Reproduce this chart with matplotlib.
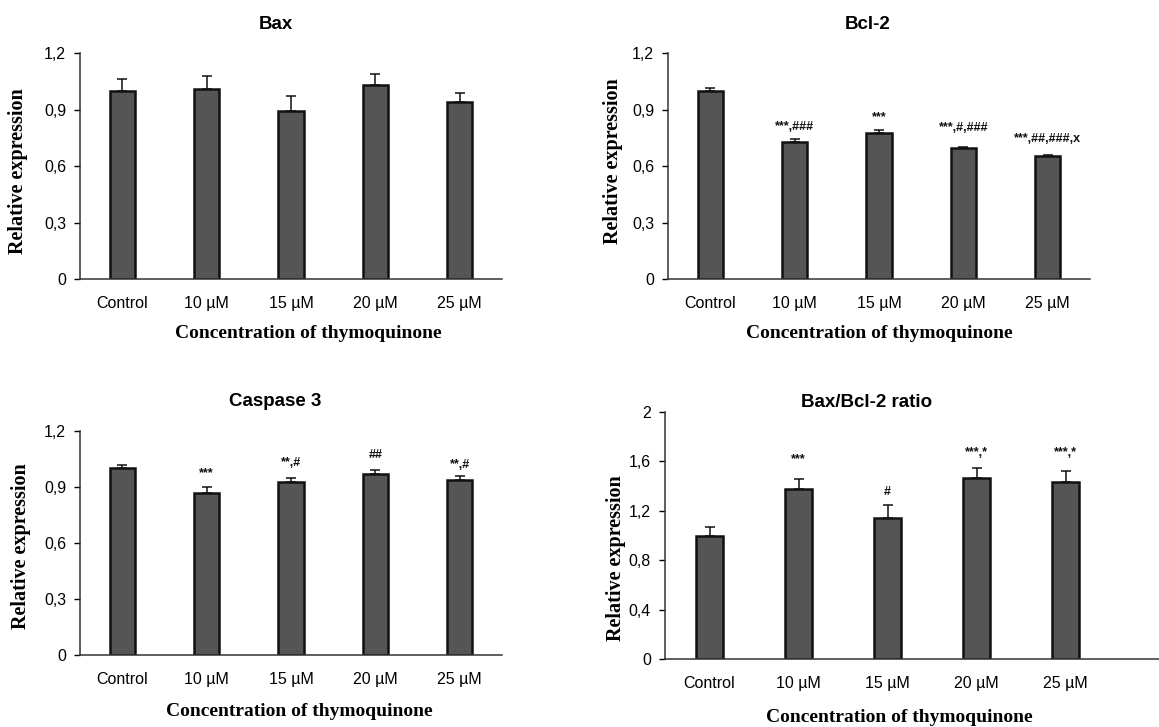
import matplotlib
matplotlib.use("Agg")
import matplotlib.pyplot as plt
import numpy as np

categories = ["Control", "10 µM", "15 µM", "20 µM", "25 µM"]

bax_vals = [1.00, 1.01, 0.89, 1.03, 0.94]
bax_err = [0.06, 0.07, 0.08, 0.06, 0.045]
bax_ann = ["", "", "", "", ""]
bax_ann_y = [0, 0, 0, 0, 0]

bcl2_vals = [1.00, 0.725, 0.775, 0.695, 0.655]
bcl2_err = [0.015, 0.02, 0.015, 0.006, 0.005]
bcl2_ann = ["", "***,###", "***", "***,#,###", "***,##,###,x"]
bcl2_ann_y = [0, 0.805, 0.86, 0.80, 0.745]

casp3_vals = [1.00, 0.87, 0.925, 0.97, 0.935]
casp3_err = [0.02, 0.03, 0.025, 0.02, 0.022]
casp3_ann = ["", "***", "**,#", "##", "**,#"]
casp3_ann_y = [0, 0.975, 1.03, 1.07, 1.02]

ratio_vals = [1.00, 1.38, 1.14, 1.463, 1.43]
ratio_err = [0.07, 0.075, 0.107, 0.087, 0.095]
ratio_ann = ["", "***", "#", "***,*", "***,*"]
ratio_ann_y = [0, 1.62, 1.35, 1.67, 1.67]

SANS = "Liberation Sans"
SERIF = "Liberation Serif"

fig = plt.figure(figsize=(11.59, 7.27), dpi=100)
fig.patch.set_facecolor("white")

panels = [
    dict(rect=[80/1159, 1-279/727, 422/1159, 226/727], title="Bax",
         vals=bax_vals, err=bax_err, ann=bax_ann, ann_y=bax_ann_y,
         ylim=1.2, yticks=[0, 0.3, 0.6, 0.9, 1.2], ticklabels=["0", "0,3", "0,6", "0,9", "1,2"],
         xlim=4.5, title_xy=(0.464, 1.128), ylab_xy=(-0.147, 0.478), xlab_xy=(0.54, -0.24)),
    dict(rect=[668/1159, 1-279/727, 422/1159, 226/727], title="Bcl-2",
         vals=bcl2_vals, err=bcl2_err, ann=bcl2_ann, ann_y=bcl2_ann_y,
         ylim=1.2, yticks=[0, 0.3, 0.6, 0.9, 1.2], ticklabels=["0", "0,3", "0,6", "0,9", "1,2"],
         xlim=4.5, title_xy=(0.474, 1.128), ylab_xy=(-0.13, 0.52), xlab_xy=(0.50, -0.24)),
    dict(rect=[80/1159, 1-655/727, 422/1159, 224/727], title="Caspase 3",
         vals=casp3_vals, err=casp3_err, ann=casp3_ann, ann_y=casp3_ann_y,
         ylim=1.2, yticks=[0, 0.3, 0.6, 0.9, 1.2], ticklabels=["0", "0,3", "0,6", "0,9", "1,2"],
         xlim=4.5, title_xy=(0.462, 1.13), ylab_xy=(-0.14, 0.487), xlab_xy=(0.52, -0.254)),
    dict(rect=[665/1159, 1-659/727, 494/1159, 247/727], title="Bax/Bcl-2 ratio",
         vals=ratio_vals, err=ratio_err, ann=ratio_ann, ann_y=ratio_ann_y,
         ylim=2.0, yticks=[0, 0.4, 0.8, 1.2, 1.6, 2.0], ticklabels=["0", "0,4", "0,8", "1,2", "1,6", "2"],
         xlim=5.05, title_xy=(0.409, 1.04), ylab_xy=(-0.1, 0.41), xlab_xy=(0.474, -0.235)),
]

for p in panels:
    ax = fig.add_axes(p["rect"])
    x = np.arange(len(categories))
    vals = np.array(p["vals"])
    err = np.array(p["err"])
    ax.bar(x, vals, width=0.3, color="#555555", edgecolor="#111111", linewidth=1.8, zorder=2)
    ax.errorbar(x, vals, yerr=[np.zeros_like(err), err], fmt="none", ecolor="#111111",
                elinewidth=1.1, capsize=3.5, capthick=1.1, zorder=3)
    for xi, txt, ty in zip(x, p["ann"], p["ann_y"]):
        if txt:
            ax.text(xi, ty, txt, ha="center", va="center", fontsize=9,
                    family=SANS, color="#111111", fontweight="bold")
    ax.set_xlim(-0.5, p["xlim"])
    ax.set_ylim(0, p["ylim"])
    ax.set_yticks(p["yticks"])
    ax.set_yticklabels(p["ticklabels"], family=SANS, fontsize=11.5)
    ax.set_xticks(x)
    ax.set_xticklabels(categories, family=SANS, fontsize=11.5)
    ax.tick_params(axis="x", length=0, pad=12)
    ax.tick_params(axis="y", length=4, width=1, pad=6, direction="out")
    for s in ["top", "right"]:
        ax.spines[s].set_visible(False)
    for s in ["left", "bottom"]:
        ax.spines[s].set_color("#333333")
        ax.spines[s].set_linewidth(1.1)
    ax.text(p["title_xy"][0], p["title_xy"][1], p["title"], transform=ax.transAxes,
            ha="center", va="center", family=SANS, fontweight="bold", fontsize=13.5)
    ax.text(p["ylab_xy"][0], p["ylab_xy"][1], "Relative expression", transform=ax.transAxes,
            ha="center", va="center", rotation=90, family=SERIF, fontweight="bold", fontsize=14.5)
    ax.text(p["xlab_xy"][0], p["xlab_xy"][1], "Concentration of thymoquinone", transform=ax.transAxes,
            ha="center", va="center", family=SERIF, fontweight="bold", fontsize=14)

fig.savefig("out.png", dpi=100, facecolor="white")
